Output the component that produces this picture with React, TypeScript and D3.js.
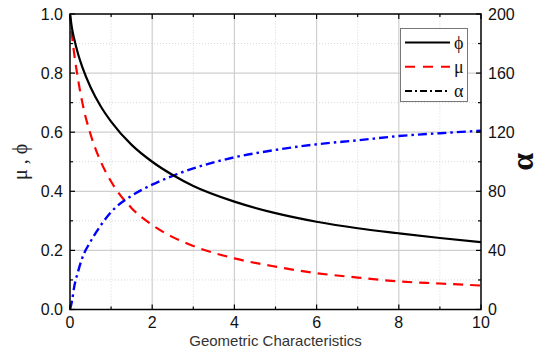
import { useEffect, useRef } from "react";
import * as d3 from "d3";

// sampled x positions (geometric characteristics)
const xs = [0, 0.05, 0.1, 0.2, 0.3, 0.5, 0.75, 1, 1.5, 2, 2.5, 3, 4, 5, 6, 7, 8, 9, 10];
// phi (left axis)
const phi = [1.0, 0.95, 0.917, 0.863, 0.82, 0.752, 0.687, 0.636, 0.557, 0.5, 0.455, 0.418, 0.365, 0.326, 0.297, 0.275, 0.258, 0.242, 0.228];
// mu (left axis)
const mu = [1.0, 0.926, 0.868, 0.775, 0.70, 0.593, 0.50, 0.433, 0.343, 0.286, 0.245, 0.215, 0.173, 0.145, 0.123, 0.108, 0.095, 0.088, 0.081];
// alpha (right axis)
const alpha = [0, 6, 15, 26, 35, 46, 57, 66, 77, 84.5, 90.5, 95.5, 103, 108, 111.8, 114.5, 117.4, 119.3, 121];

const xTicks = [0, 2, 4, 6, 8, 10];
const yLeftTicks = [0, 0.2, 0.4, 0.6, 0.8, 1.0];
const yRightTicks = [0, 40, 80, 120, 160, 200];

const legendItems = [
  { label: "\u03d5", color: "#000", dash: "none" },
  { label: "\u03bc", color: "#ff0000", dash: "10,8" },
  { label: "\u03b1", color: "#000", dash: "7,3,2,3" },
];

export default function App() {
  const ref = useRef<SVGSVGElement | null>(null);

  useEffect(() => {
    if (!ref.current) return;
    const width = 543;
    const height = 349;
    const margin = { top: 14, right: 62, bottom: 39.5, left: 70 };

    const svg = d3.select(ref.current).attr("width", width).attr("height", height);
    svg.selectAll("*").remove();

    const x = d3.scaleLinear().domain([0, 10]).range([margin.left, width - margin.right]);
    const yL = d3.scaleLinear().domain([0, 1]).range([height - margin.bottom, margin.top]);
    const yR = d3.scaleLinear().domain([0, 200]).range([height - margin.bottom, margin.top]);

    const font = "'Liberation Sans', Arial, sans-serif";
    const serif = "'Liberation Serif', 'Times New Roman', serif";
    const x0 = x(0), x1 = x(10), y0 = yL(0), y1 = yL(1);

    // grid: minor dotted, major solid
    const grid = svg.append("g");
    d3.range(1, 10, 2).forEach(v => {
      grid.append("line").attr("x1", x(v)).attr("x2", x(v)).attr("y1", y0).attr("y2", y1)
        .attr("stroke", "#d8d8d8").attr("stroke-dasharray", "1,2");
    });
    d3.range(0.1, 1, 0.2).forEach(v => {
      grid.append("line").attr("x1", x0).attr("x2", x1).attr("y1", yL(v)).attr("y2", yL(v))
        .attr("stroke", "#d8d8d8").attr("stroke-dasharray", "1,2");
    });
    xTicks.slice(1, -1).forEach(v => {
      grid.append("line").attr("x1", x(v)).attr("x2", x(v)).attr("y1", y0).attr("y2", y1)
        .attr("stroke", "#cfcfcf").attr("stroke-width", 1.2);
    });
    yLeftTicks.slice(1, -1).forEach(v => {
      grid.append("line").attr("x1", x0).attr("x2", x1).attr("y1", yL(v)).attr("y2", yL(v))
        .attr("stroke", "#cfcfcf").attr("stroke-width", 1.2);
    });

    // curves
    const idx = d3.range(xs.length);
    const lineL = (vals: number[]) => d3.line<number>().x(i => x(xs[i])).y(i => yL(vals[i])).curve(d3.curveMonotoneX)(idx);
    const lineR = d3.line<number>().x(i => x(xs[i])).y(i => yR(alpha[i])).curve(d3.curveMonotoneX)(idx);

    svg.append("path").attr("d", lineL(mu)).attr("fill", "none")
      .attr("stroke", "#ff0000").attr("stroke-width", 2.2).attr("stroke-dasharray", "10,7");
    svg.append("path").attr("d", lineR).attr("fill", "none")
      .attr("stroke", "#0000ff").attr("stroke-width", 2.4).attr("stroke-dasharray", "9,4,2.5,4");
    svg.append("path").attr("d", lineL(phi)).attr("fill", "none")
      .attr("stroke", "#000").attr("stroke-width", 2.2);

    // frame
    svg.append("rect").attr("x", x0).attr("y", y1).attr("width", x1 - x0).attr("height", y0 - y1)
      .attr("fill", "none").attr("stroke", "#000").attr("stroke-width", 1.5);

    // inward ticks on all four sides
    const ticks = svg.append("g").attr("stroke", "#000").attr("stroke-width", 1.2);
    d3.range(0, 11, 1).forEach(v => {
      const len = v % 2 === 0 ? 5 : 3;
      ticks.append("line").attr("x1", x(v)).attr("x2", x(v)).attr("y1", y0).attr("y2", y0 - len);
      ticks.append("line").attr("x1", x(v)).attr("x2", x(v)).attr("y1", y1).attr("y2", y1 + len);
    });
    d3.range(0, 11, 1).forEach(k => {
      const len = k % 2 === 0 ? 5 : 3;
      const yy = yL(k / 10);
      ticks.append("line").attr("x1", x0).attr("x2", x0 + len).attr("y1", yy).attr("y2", yy);
      ticks.append("line").attr("x1", x1).attr("x2", x1 - len).attr("y1", yy).attr("y2", yy);
    });

    // tick labels
    const labels = svg.append("g").attr("font-family", font).attr("font-size", 16).attr("fill", "#111");
    xTicks.forEach(v => {
      labels.append("text").attr("x", x(v)).attr("y", y0 + 18).attr("text-anchor", "middle").text(String(v));
    });
    yLeftTicks.forEach(v => {
      labels.append("text").attr("x", x0 - 7).attr("y", yL(v) + 5.5).attr("text-anchor", "end").text(d3.format(".1f")(v));
    });
    yRightTicks.forEach(v => {
      labels.append("text").attr("x", x1 + 7).attr("y", yR(v) + 5.5).attr("text-anchor", "start").text(String(v));
    });

    // axis titles
    svg.append("text").attr("x", (x0 + x1) / 2).attr("y", height - 3.5).attr("text-anchor", "middle")
      .attr("font-family", font).attr("font-size", 15).attr("fill", "#333").text("Geometric Characteristics");
    svg.append("text").attr("transform", `translate(27, ${(y0 + y1) / 2}) rotate(-90)`)
      .attr("text-anchor", "middle").attr("font-family", serif).attr("font-size", 20).attr("fill", "#222")
      .text("\u03bc , \u03d5");
    svg.append("text").attr("transform", `translate(533, ${(y0 + y1) / 2}) rotate(-90)`)
      .attr("text-anchor", "middle").attr("font-family", serif).attr("font-size", 32)
      .attr("font-weight", "bold").attr("fill", "#111").text("\u03b1");

    // legend
    const lg = svg.append("g");
    lg.append("rect").attr("x", 400.5).attr("y", 28.5).attr("width", 67).attr("height", 73)
      .attr("fill", "#fff").attr("stroke", "#777").attr("stroke-width", 1);
    legendItems.forEach((d, i) => {
      const yy = 42.5 + i * 24.3;
      lg.append("line").attr("x1", 405).attr("x2", 450).attr("y1", yy).attr("y2", yy)
        .attr("stroke", d.color).attr("stroke-width", 2).attr("stroke-dasharray", d.dash);
      lg.append("text").attr("x", 454).attr("y", yy + 6).attr("font-family", serif)
        .attr("font-size", 18).attr("fill", "#111").text(d.label);
    });
  }, []);

  return <svg ref={ref} style={{ position: "absolute", left: 0, top: 0 }}></svg>;
}
